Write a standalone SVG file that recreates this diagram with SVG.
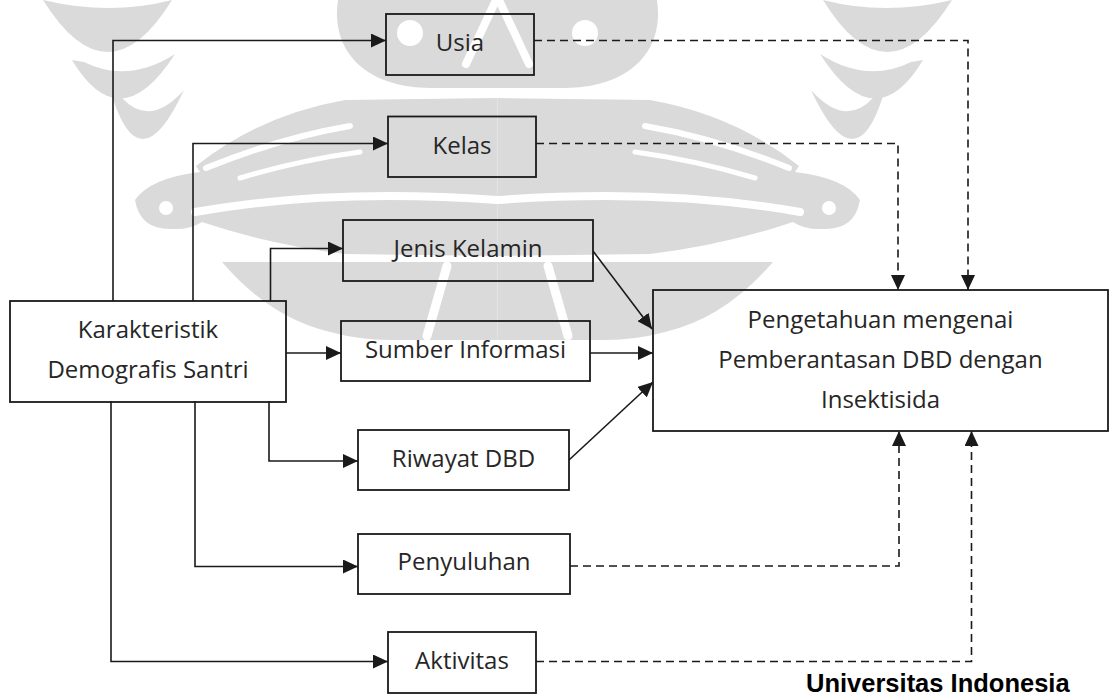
<svg xmlns="http://www.w3.org/2000/svg" xmlns:xlink="http://www.w3.org/1999/xlink" width="1109" height="697" viewBox="0 0 1109 697">
<style>
.wm{fill:#dadada;stroke:none}
.wmw{fill:none;stroke:#ffffff;stroke-linecap:round}
.box{fill:none;stroke:#1a1a1a;stroke-width:1.8}
.ln{fill:none;stroke:#1a1a1a;stroke-width:1.6}
.dash{fill:none;stroke:#1a1a1a;stroke-width:1.6;stroke-dasharray:8 5}
.t{font-family:"Open Sans","Noto Sans","Liberation Sans",sans-serif;font-size:24px;fill:#262626;text-anchor:middle}
.ui{font-family:"Liberation Sans",Arial,sans-serif;font-size:25.5px;font-weight:bold;fill:#000}
</style>
<defs>
<marker id="arr" markerUnits="userSpaceOnUse" markerWidth="15" markerHeight="14" refX="15" refY="7" orient="auto">
<path d="M0,0 L15,7 L0,14 Z" fill="#1a1a1a"/>
</marker>
<g id="wm-left">
<path class="wm" d="M43,0 Q108,104 172,0 Q110,16 43,0 Z"/>
<path class="wm" d="M72,60 Q120,140 175,54 Q128,84 84,62 Z"/>
<path class="wm" d="M112,96 Q140,185 184,90 Q150,128 122,98 Z"/>
<path class="wm" d="M497.5,98 L345,100 Q260,115 196,166 L200,172 Q150,178 135,200 Q140,230 172,229 Q190,230 202,222 Q270,245 345,254 L497.5,256 Z"/>
<path class="wmw" stroke-width="6" d="M206,168 Q280,138 350,126"/>
<path class="wmw" stroke-width="5" d="M240,178 Q300,160 360,152"/>
<path class="wmw" stroke-width="8" d="M195,212 Q330,188 497.5,200"/>
<circle cx="166" cy="208" r="7" fill="#ffffff"/>
<path class="wm" d="M222,262 Q270,318 330,332 Q360,340 390,340 L497.5,340 L497.5,262 Z"/>
<path class="wmw" stroke-width="9" d="M447,266 L427,336"/>
</g>
</defs>
<g id="watermark">
<use xlink:href="#wm-left"/>
<use xlink:href="#wm-left" transform="translate(995,0) scale(-1,1)"/>
<path class="wm" d="M338,0 C330,55 370,88 430,88 L565,88 C625,88 665,55 657,0 Z"/>
<circle cx="410" cy="33" r="13" fill="#ffffff"/>
<circle cx="585" cy="33" r="13" fill="#ffffff"/>
<path class="wmw" stroke-width="8" d="M496,0 L466,64 M499,0 L529,64"/>
</g>
<g id="connectors">
<path class="ln" d="M113,301 V40.5 H386" marker-end="url(#arr)"/>
<path class="ln" d="M193,301 V143.5 H388" marker-end="url(#arr)"/>
<path class="ln" d="M270.5,301 V248.5 H343" marker-end="url(#arr)"/>
<path class="ln" d="M286,353 H341" marker-end="url(#arr)"/>
<path class="ln" d="M269,401 V461 H358" marker-end="url(#arr)"/>
<path class="ln" d="M195,401 V566.5 H358" marker-end="url(#arr)"/>
<path class="ln" d="M111,401 V661.5 H388" marker-end="url(#arr)"/>
<path class="ln" d="M593,251 L652,329" marker-end="url(#arr)"/>
<path class="ln" d="M590,353 L653,353" marker-end="url(#arr)"/>
<path class="ln" d="M569,460 L653,382" marker-end="url(#arr)"/>
<path class="dash" d="M534,40.5 H968 V290" marker-end="url(#arr)"/>
<path class="dash" d="M536,143.5 H898 V290" marker-end="url(#arr)"/>
<path class="dash" d="M570,566 H899 V431" marker-end="url(#arr)"/>
<path class="dash" d="M536,661.5 H971.5 V431" marker-end="url(#arr)"/>
</g>
<g id="n-karakteristik">
<rect class="box" x="10" y="301" width="276" height="101"/>
<text class="t" x="148" y="338">Karakteristik</text>
<text class="t" x="148" y="378">Demografis Santri</text>
</g>
<g id="n-usia">
<rect class="box" x="386" y="14" width="148" height="61"/>
<text class="t" x="460" y="51">Usia</text>
</g>
<g id="n-kelas">
<rect class="box" x="388" y="116.5" width="148" height="60.5"/>
<text class="t" x="462" y="154">Kelas</text>
</g>
<g id="n-jenis">
<rect class="box" x="343" y="220" width="250" height="61"/>
<text class="t" x="468" y="257">Jenis Kelamin</text>
</g>
<g id="n-sumber">
<rect class="box" x="341" y="321" width="249" height="60"/>
<text class="t" x="465.5" y="358">Sumber Informasi</text>
</g>
<g id="n-riwayat">
<rect class="box" x="358" y="430" width="211" height="60"/>
<text class="t" x="463.5" y="467">Riwayat DBD</text>
</g>
<g id="n-penyuluhan">
<rect class="box" x="358" y="534" width="212" height="60"/>
<text class="t" x="464" y="570">Penyuluhan</text>
</g>
<g id="n-aktivitas">
<rect class="box" x="388" y="632" width="148" height="61"/>
<text class="t" x="462" y="669">Aktivitas</text>
</g>
<g id="n-pengetahuan">
<rect class="box" x="653" y="290" width="455" height="141"/>
<text class="t" x="880.5" y="328">Pengetahuan mengenai</text>
<text class="t" x="880.5" y="368">Pemberantasan DBD dengan</text>
<text class="t" x="880.5" y="408">Insektisida</text>
</g>
<g id="footer">
<text class="ui" x="806" y="692">Universitas Indonesia</text>
</g>
</svg>
